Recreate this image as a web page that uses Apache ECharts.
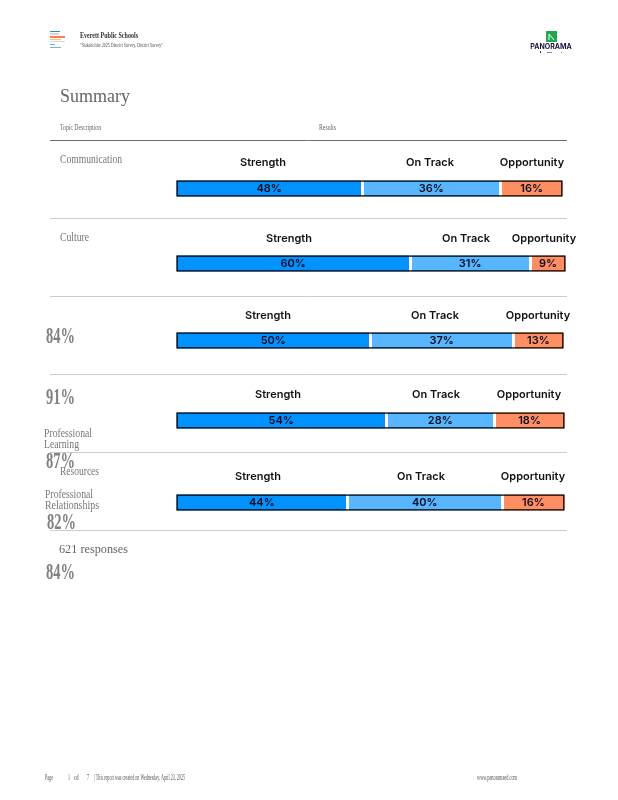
<!DOCTYPE html>
<html>
<head>
<meta charset="utf-8">
<style>
  html, body { margin: 0; padding: 0; background: #fff; }
  #chart { width: 618px; height: 800px; }
</style>
<script src="https://cdn.jsdelivr.net/npm/echarts@6/dist/echarts.min.js"></script>
</head>
<body>
<div id="chart"></div>
<script>
  // values, one entry per row
  const seriesNames = ['Strength', 'On Track', 'Opportunity']
  const strength = [48, 60, 50, 54, 44]
  const onTrack = [36, 31, 37, 28, 40]
  const opportunity = [16, 9, 13, 18, 16]
  const totals = [100, 100, 100, 100, 100]

  // layout of the rows
  const barTop = [180, 255, 332, 412, 494]
  const barRight = [563, 566, 564, 565, 565]
  const headerY = [163, 239, 316, 395, 477]
  const headerX = [
    [263, 430, 532],
    [289, 466, 544],
    [268, 435, 538],
    [278, 436, 529],
    [258, 421, 533]
  ]
  const colors = ['#0092ff', '#58b6ff', '#ff8f63']
  const serif = '"Liberation Serif", serif'
  const sans = 'Inter, "Noto Sans", sans-serif'

  const ctx = document.createElement('canvas').getContext('2d')

  // the page text is squeezed sideways, so fit each string to its measured width
  function text(str, x, y, size, width, color, weight) {
    const font = (weight || 'normal') + ' ' + size + 'px ' + serif
    ctx.font = font
    const scale = width ? width / ctx.measureText(str).width : 1
    return {
      type: 'text',
      x: x,
      y: y + 1,
      scaleX: scale,
      silent: true,
      style: {
        text: str,
        fill: color || '#666',
        font: font,
        textVerticalAlign: 'middle'
      }
    }
  }

  function rule(y, color) {
    return {
      type: 'line',
      silent: true,
      shape: { x1: 50, y1: y, x2: 567, y2: y },
      style: { stroke: color, lineWidth: 1 }
    }
  }

  function block(x, y, w, h, color) {
    return { type: 'rect', silent: true, shape: { x: x, y: y, width: w, height: h }, style: { fill: color } }
  }

  const graphic = [
    // small report icon
    block(50, 31, 10, 1, '#3a8ac0'),
    block(50, 33, 9, 2, '#d8d8d8'),
    block(50, 36, 15, 2, '#ff7a59'),
    block(50, 39, 11, 1, '#ffc27a'),
    block(50, 41, 15, 1, '#d8d8d8'),
    block(50, 44, 5, 1, '#45b8f0'),
    block(50, 47, 11, 1, '#8fa4e8'),
    text('Everett Public Schools', 80, 35, 9, 58, '#333', 'bold'),
    text('"Stakeholder 2025 District Survey, District Survey"', 80, 44, 7, 83, '#555'),
    // panorama logo
    block(546, 31, 11, 11, '#1fa84f'),
    {
      type: 'polyline',
      silent: true,
      shape: { points: [[549, 40], [549, 34], [554, 40]] },
      style: { stroke: '#fff', lineWidth: 1, fill: 'none' }
    },
    {
      type: 'text',
      x: 551,
      y: 47,
      silent: true,
      style: {
        text: 'PANORAMA',
        fill: '#14143c',
        font: 'bold 7px ' + sans,
        textAlign: 'center',
        textVerticalAlign: 'middle'
      }
    },
    block(540, 51, 1, 2, '#333'),
    block(547, 52, 5, 1, '#888'),
    block(561, 52, 1, 1, '#888'),

    text('Summary', 60, 96, 18, 70, '#666'),
    text('Topic Description', 60, 127, 9, 41, '#666'),
    text('Results', 319, 127, 9, 17, '#666'),
    rule(140.5, '#6e6e6e'),
    rule(218.5, '#ccc'),
    rule(296.5, '#ccc'),
    rule(374.5, '#ccc'),
    rule(452.5, '#ccc'),
    rule(530.5, '#ccc'),

    text('Communication', 60, 159, 13, 62, '#777'),
    text('Culture', 60, 237, 13, 29, '#777'),
    text('84%', 46, 336, 24, 29, '#808080', 'bold'),
    text('91%', 46, 397, 24, 29, '#808080', 'bold'),
    text('Professional', 44, 433, 13, 48, '#777'),
    text('Learning', 44, 444, 13, 35, '#777'),
    text('87%', 46, 461, 24, 29, '#808080', 'bold'),
    text('Resources', 60, 471, 13, 39, '#777'),
    text('Professional', 45, 494, 13, 48, '#777'),
    text('Relationships', 45, 505, 13, 54, '#777'),
    text('82%', 47, 522, 24, 29, '#808080', 'bold'),
    text('621 responses', 59, 549, 12, 69, '#666'),
    text('84%', 46, 572, 24, 29, '#808080', 'bold'),

    // footer
    text('Page', 45, 777, 8, 8, '#555'),
    text('1', 68, 777, 8, 2, '#555'),
    text('of', 74, 777, 8, 5, '#555'),
    text('7', 87, 777, 8, 2, '#555'),
    text('| This report was created on Wednesday, April 23, 2025', 94, 777, 8, 91, '#555'),
    text('www.panoramaed.com', 477, 777, 8, 40, '#555')
  ]

  // Strength / On Track / Opportunity captions above each bar
  headerX.forEach((row, i) => {
    row.forEach((x, j) => {
      graphic.push({
        type: 'text',
        x: x,
        y: headerY[i],
        silent: true,
        style: {
          text: seriesNames[j],
          fill: '#111',
          font: '600 11px ' + sans,
          textAlign: 'center',
          textVerticalAlign: 'middle'
        }
      })
    })
  })

  const grid = []
  const xAxis = []
  const yAxis = []
  const series = []

  strength.forEach((v, i) => {
    grid.push({ left: 176.5, top: barTop[i] + 0.5, width: barRight[i] - 177, height: 16, containLabel: false })
    xAxis.push({ gridIndex: i, type: 'value', min: 0, max: 100, show: false })
    yAxis.push({ gridIndex: i, type: 'category', data: [''], show: false })

    const values = [strength[i], onTrack[i], opportunity[i]]
    values.forEach((val, j) => {
      series.push({
        name: seriesNames[j],
        type: 'bar',
        xAxisIndex: i,
        yAxisIndex: i,
        stack: 'row' + i,
        barWidth: 16,
        data: [val],
        itemStyle: { color: colors[j] },
        label: {
          show: true,
          position: 'inside',
          formatter: '{c}%',
          color: '#0a0a1e',
          fontFamily: sans,
          fontSize: 11,
          fontWeight: 600
        },
        animation: false,
        silent: true
      })
    })

    // black outline, white gaps between the segments
    series.push({
      type: 'bar',
      xAxisIndex: i,
      yAxisIndex: i,
      barWidth: 16,
      barGap: '-100%',
      z: 6,
      data: [totals[i]],
      itemStyle: { color: 'transparent', borderColor: '#000', borderWidth: 1.3 },
      markLine: {
        silent: true,
        symbol: 'none',
        animation: false,
        z: 5,
        label: { show: false },
        lineStyle: { color: '#fff', width: 3, type: 'solid' },
        data: [{ xAxis: strength[i] }, { xAxis: strength[i] + onTrack[i] }]
      },
      animation: false,
      silent: true
    })
  })

  const chart = echarts.init(document.getElementById('chart'), null, { renderer: 'canvas' })
  chart.setOption({
    backgroundColor: '#fff',
    animation: false,
    grid: grid,
    xAxis: xAxis,
    yAxis: yAxis,
    series: series,
    graphic: graphic
  })
</script>
</body>
</html>
